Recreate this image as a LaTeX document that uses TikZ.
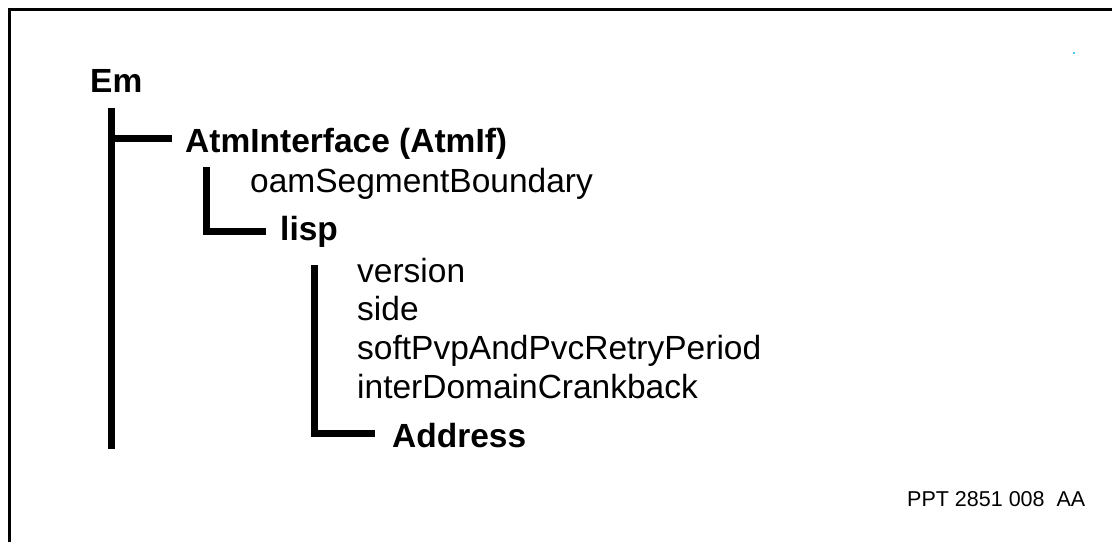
\documentclass[tikz,border=0pt]{standalone}
\usepackage{fontspec}
\setmainfont{Liberation Sans}
\begin{document}
\begin{tikzpicture}[x=1pt,y=-1pt,
  lbl/.style={anchor=base west,inner sep=0pt,font=\fontsize{33.5}{36}\selectfont},
  blbl/.style={lbl,font=\fontsize{33.5}{36}\selectfont\bfseries},
  tree/.style={line width=7pt,line cap=butt,line join=miter},
  frame/.style={line width=3.5pt,line cap=butt}]
\useasboundingbox (0,0) rectangle (1112,542);
\fill[white] (0,0) rectangle (1112,542);
% frame
\coordinate (f1) at (9.5,542);
\coordinate (f2) at (9.5,9.5);
\coordinate (f3) at (1112,9.5);
\draw[frame] (f1) -- (f2) -- (f3);
% texts
\node[blbl] (em) at (90,92) {Em};
\node[blbl] (atm) at (185,152) {AtmInterface (AtmIf)};
\node[lbl] (oam) at (250,192) {oamSegmentBoundary};
\node[blbl] (lisp) at (280,240) {lisp};
\node[lbl] (ver) at (357,282) {version};
\node[lbl] (side) at (357,320) {side};
\node[lbl] (soft) at (357,359) {softPvpAndPvcRetryPeriod};
\node[lbl] (inter) at (357,398) {interDomainCrankback};
\node[blbl] (addr) at (392,447) {Address};
\node[anchor=base west,inner sep=0pt,font=\fontsize{21.5}{24}\selectfont] (ppt) at (907,506) {PPT 2851 008\ \ AA};
% tree lines
\coordinate (a1) at (111.5,108);
\coordinate (a2) at (111.5,449);
\coordinate (a3) at (108,138.5);
\coordinate (a4) at (172,138.5);
\draw[tree] (a1) -- (a2);
\draw[tree] (a3) -- (a4);
\coordinate (b1) at (206,167);
\coordinate (b2) at (266,231.5);
\draw[tree] (b1) |- (b2);
\coordinate (c1) at (314,265);
\coordinate (c2) at (375,433);
\draw[tree] (c1) |- (c2);
% small cyan speck
\coordinate (dot) at (1073,52);
\fill[cyan!70] (dot) rectangle ++(2,2);
\end{tikzpicture}
\end{document}
